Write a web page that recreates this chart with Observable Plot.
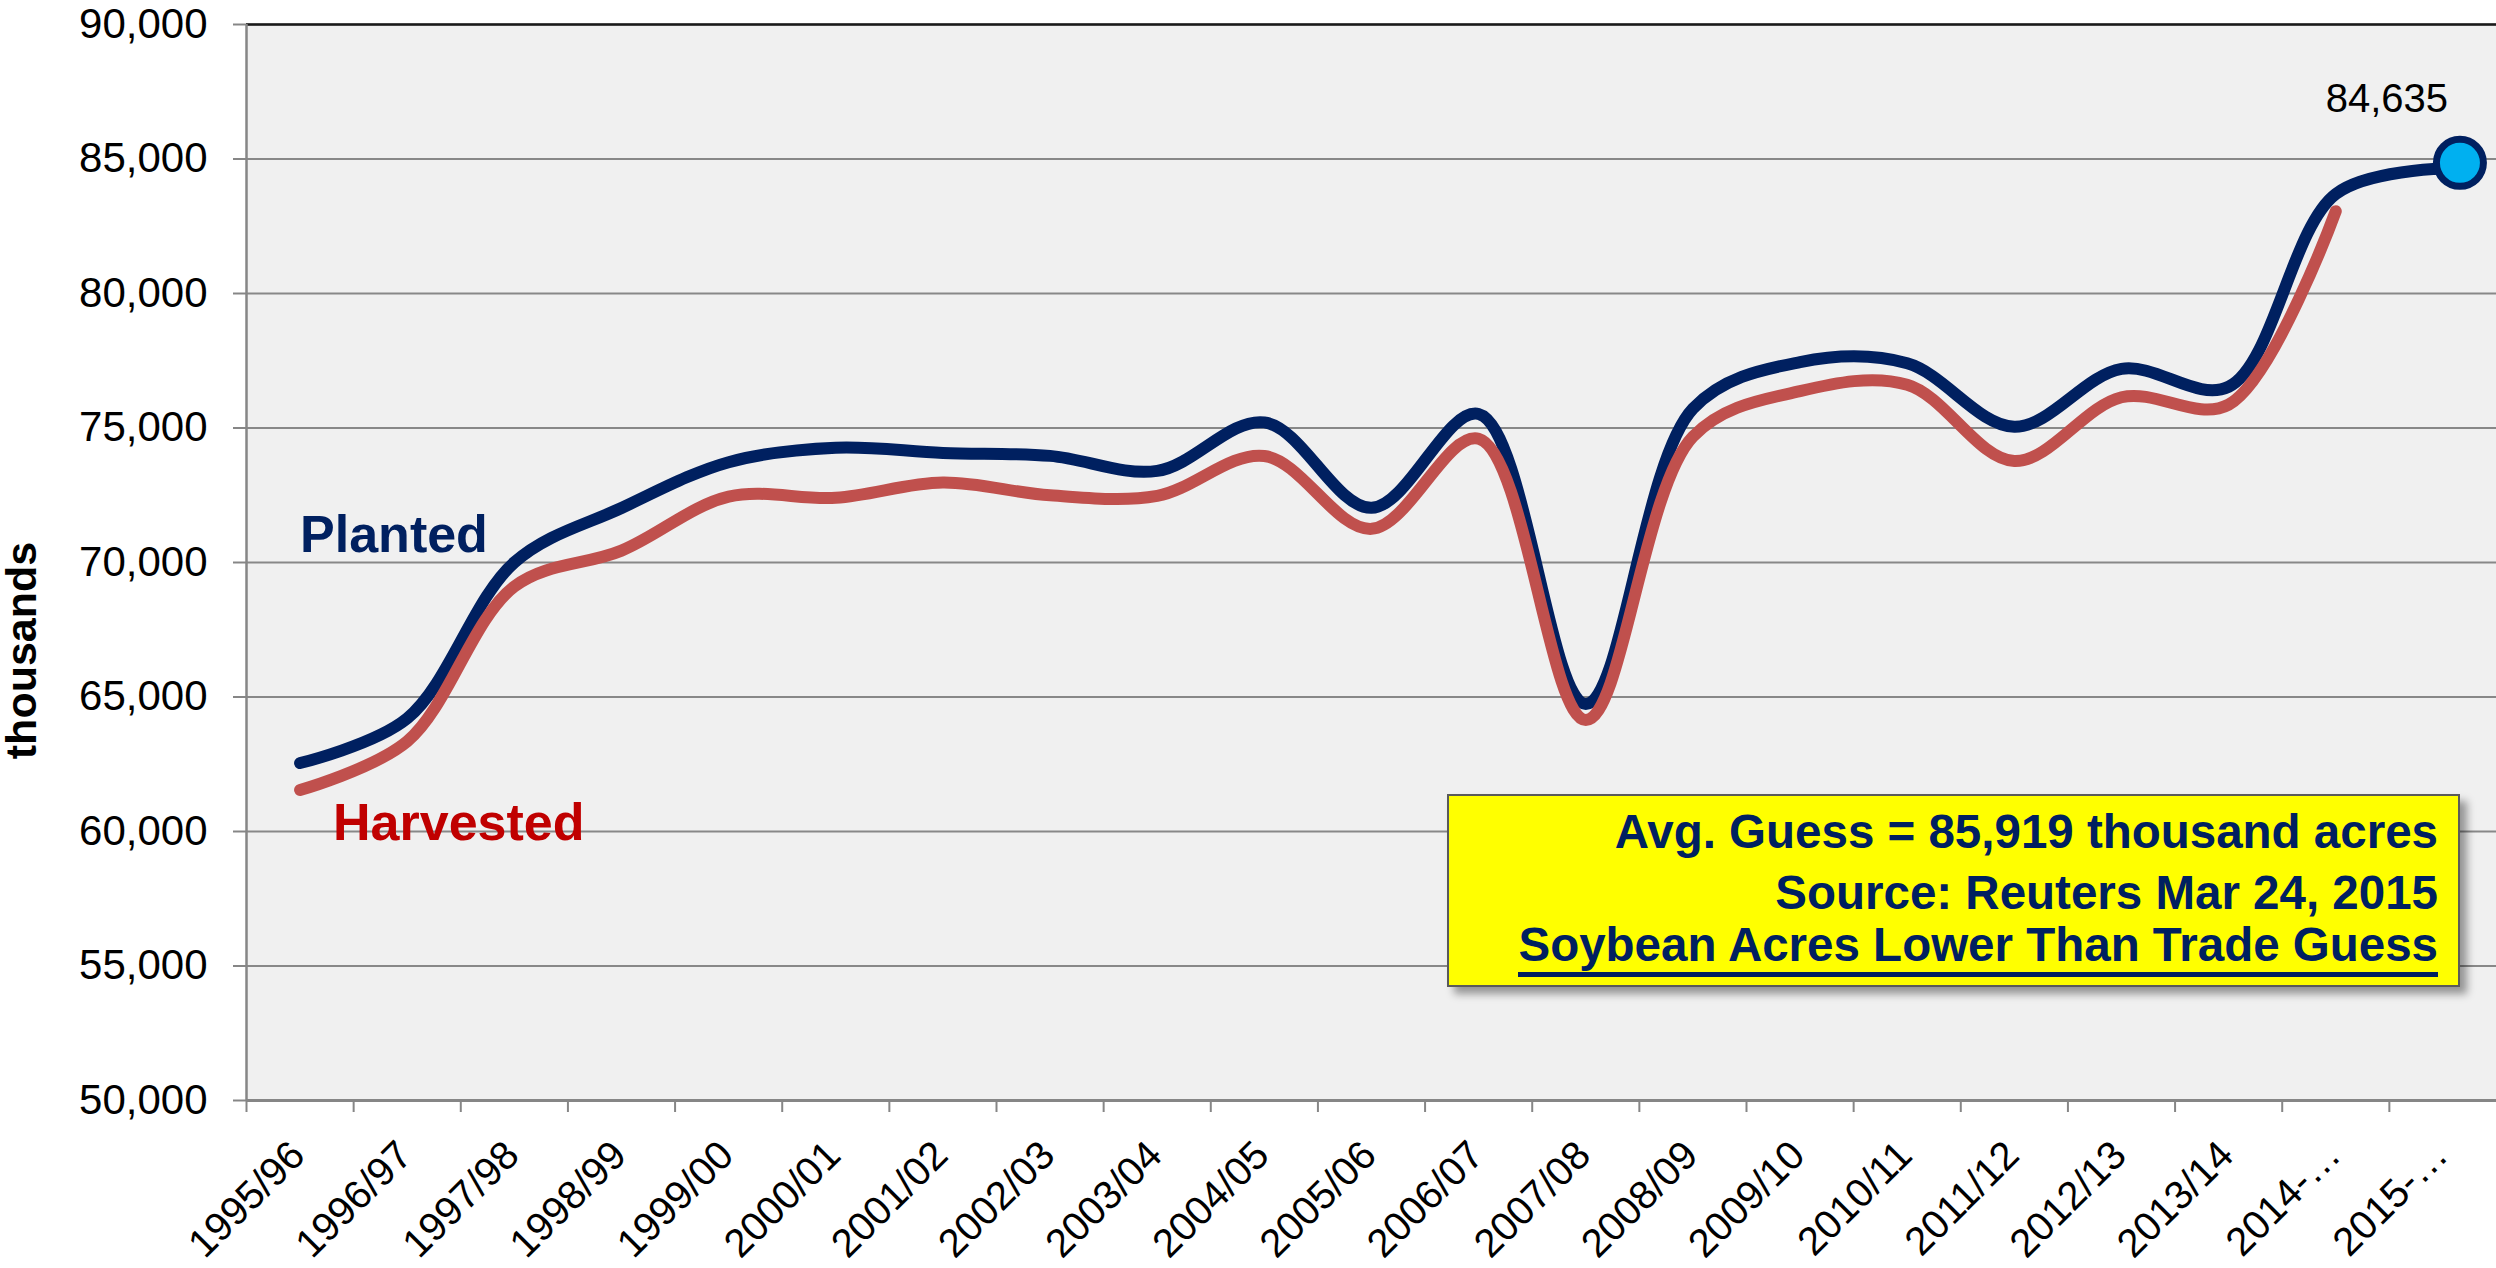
<!DOCTYPE html>
<html>
<head>
<meta charset="utf-8">
<script src="https://cdn.jsdelivr.net/npm/d3@7"></script>
<script src="https://cdn.jsdelivr.net/npm/@observablehq/plot@0.6"></script>
<style>
  html, body { margin: 0; padding: 0; background: #ffffff; }
  #wrap { position: relative; width: 2496px; height: 1268px; font-family: "Liberation Sans", Arial, Helvetica, sans-serif; }
  #wrap svg { position: absolute; left: 0; top: 0; }
  #note { position: absolute; left: 1447px; top: 794px; width: 1013px; height: 193px; box-sizing: border-box;
          background: #FFFF00; border: 2px solid #5a5a5a; box-shadow: 7px 7px 8px rgba(0,0,0,0.38); }
  .nl { position: absolute; right: 20px; font-weight: bold; font-size: 47.5px; color: #002060; white-space: nowrap; line-height: 1; }
  .ul { display: inline-block; border-bottom: 5px solid #002060; padding-bottom: 3px; line-height: 1; }
</style>
</head>
<body>
<div id="wrap"></div>
<script>
// ---- data (thousand acres) ----
const categories = ["1995/96","1996/97","1997/98","1998/99","1999/00","2000/01","2001/02","2002/03","2003/04","2004/05",
                    "2005/06","2006/07","2007/08","2008/09","2009/10","2010/11","2011/12","2012/13","2013/14","2014-…","2015-…"];
const planted   = [62545, 64205, 70005, 72025, 73730, 74266, 74075, 73963, 73404, 75208,
                   72032, 75522, 64741, 75718, 77451, 77404, 75046, 77198, 76533, 83701, 84635];
const harvested = [61544, 63349, 69110, 70441, 72446, 72408, 72975, 72497, 72476, 73958,
                   71251, 74602, 64146, 74681, 76372, 76610, 73776, 76144, 75869, 83061];
const yTicks = [50000, 55000, 60000, 65000, 70000, 75000, 80000, 85000, 90000];
const noteLines = ["Avg. Guess = 85,919 thousand acres", "Source: Reuters Mar 24, 2015", "Soybean Acres Lower Than Trade Guess"];

// each category occupies one unit; values sit at the middle of their slot
const plantedData = planted.map((v, i) => ({i: i + 0.5, v}));
const harvestedData = harvested.map((v, i) => ({i: i + 0.5, v}));
const catData = categories.map((c, i) => ({i: i + 0.5, c}));
const lastPlanted = plantedData[plantedData.length - 1];
const fmt = d3.format(",");

const chart = Plot.plot({
  width: 2496,
  height: 1268,
  marginLeft: 246,
  marginRight: 0,
  marginTop: 24,
  marginBottom: 168,
  x: {domain: [0, categories.length], axis: null},
  y: {domain: [50000, 90000], axis: null},
  style: {fontFamily: "'Liberation Sans', Arial, Helvetica, sans-serif", background: "transparent", overflow: "visible"},
  marks: [
    Plot.frame({fill: "#F0F0F0", stroke: null}),
    Plot.gridY(yTicks, {stroke: "#888888", strokeOpacity: 1, strokeWidth: 2}),
    Plot.ruleY([90000], {stroke: "#1a1a1a", strokeWidth: 2.5}),
    Plot.ruleX([0], {stroke: "#868686", strokeWidth: 2.5}),
    Plot.ruleY([50000], {stroke: "#868686", strokeWidth: 3}),
    Plot.axisY(yTicks, {tickSize: 13, tickPadding: 26, tickFormat: fmt, fontSize: 42, stroke: "#868686", strokeWidth: 2, fill: "#000", label: null}),
    Plot.axisX(d3.range(0, categories.length), {tickSize: 12, tickFormat: () => "", stroke: "#868686", strokeWidth: 2, label: null}),
    Plot.text(catData, {x: "i", text: "c", frameAnchor: "bottom", rotate: -45, textAnchor: "end", lineAnchor: "bottom",
                        dx: 7, dy: 57, fontSize: 40, fill: "#000"}),
    Plot.text(["thousands"], {frameAnchor: "left", rotate: -90, textAnchor: "middle", lineAnchor: "bottom",
                              dx: -211, dy: 88, fontSize: 43, fontWeight: "bold", fill: "#000"}),
    Plot.line(plantedData, {x: "i", y: "v", stroke: "#002060", strokeWidth: 12, curve: "catmull-rom", strokeLinecap: "round", strokeLinejoin: "round"}),
    Plot.line(harvestedData, {x: "i", y: "v", stroke: "#C0504D", strokeWidth: 12, curve: "catmull-rom", strokeLinecap: "round", strokeLinejoin: "round"}),
    Plot.dot([lastPlanted], {x: "i", y: "v", r: 23.5, fill: "#00B0F0", stroke: "#002060", strokeWidth: 7, dx: 17, dy: -6}),
    Plot.text([lastPlanted], {x: "i", y: "v", text: d => fmt(d.v), dx: -56, dy: -70, fontSize: 40, fill: "#000", lineAnchor: "middle"}),
    Plot.text(["Planted"], {x: 0.5, y: 71000, textAnchor: "start", lineAnchor: "middle", fontSize: 52, fontWeight: "bold", fill: "#002060"}),
    Plot.text(["Harvested"], {x: 0.5, y: 60320, dx: 33, textAnchor: "start", lineAnchor: "middle", fontSize: 52, fontWeight: "bold", fill: "#C00000"})
  ]
});

const wrap = document.getElementById("wrap");
wrap.appendChild(chart);

const note = document.createElement("div");
note.id = "note";
const tops = [12, 73, 125];
noteLines.forEach((t, k) => {
  const d = document.createElement("div");
  d.className = "nl";
  d.style.top = tops[k] + "px";
  if (k === noteLines.length - 1) {
    const s = document.createElement("span");
    s.className = "ul";
    s.textContent = t;
    d.appendChild(s);
  } else {
    d.textContent = t;
  }
  note.appendChild(d);
});
wrap.appendChild(note);
</script>
</body>
</html>
